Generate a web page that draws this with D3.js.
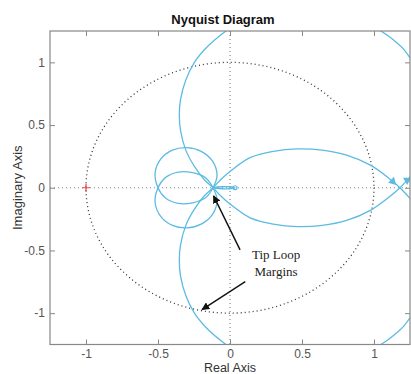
<!DOCTYPE html>
<html lang="en">
<head>
<meta charset="UTF-8">
<title>Nyquist Diagram</title>
<style>
  body { margin: 0; padding: 0; background: #fff; }
  svg { display: block; font-family: "Liberation Sans", Arial, sans-serif; }
  .tick text { fill: #555; font-size: 12px; }
  .tick line { stroke: #888; }
</style>
</head>
<body>
<svg id="chart" width="411" height="374"></svg>
<script src="https://d3js.org/d3.v7.min.js"></script>
<script>
// tick values
var xTicks = [-1, -0.5, 0, 0.5, 1];
var yTicks = [-1, -0.5, 0, 0.5, 1];

// big arc (upper half) running through the junction into the lower side of the right lobe
var branchA = [[-0.005, 1.27], [-0.105, 1.18], [-0.178, 1.10], [-0.247, 1.0], [-0.307, 0.86],
  [-0.344, 0.70], [-0.352, 0.58], [-0.344, 0.46], [-0.307, 0.30], [-0.247, 0.17],
  [-0.178, 0.064], [-0.118, 0], [-0.06, -0.07], [0.0, -0.13], [0.14, -0.24], [0.30, -0.29],
  [0.47, -0.31], [0.64, -0.30], [0.81, -0.26], [0.975, -0.18], [1.11, -0.07], [1.18, 0],
  [1.27, 0.11]];
// mirror branch (lower big arc into the upper side of the right lobe)
var branchB = [[-0.005, -1.27], [-0.105, -1.18], [-0.178, -1.10], [-0.247, -1.0], [-0.307, -0.86],
  [-0.344, -0.70], [-0.352, -0.58], [-0.344, -0.46], [-0.307, -0.30], [-0.247, -0.17],
  [-0.178, -0.064], [-0.118, 0], [-0.06, 0.07], [0.0, 0.13], [0.14, 0.24], [0.30, 0.29],
  [0.47, 0.31], [0.64, 0.30], [0.81, 0.26], [0.975, 0.18], [1.11, 0.07], [1.18, 0],
  [1.27, -0.11]];

// the two small loops left of the origin
var loopUpper = [[-0.30, 0.32], [-0.40, 0.30], [-0.48, 0.23], [-0.52, 0.12], [-0.50, 0.0],
  [-0.45, -0.08], [-0.36, -0.125], [-0.26, -0.12], [-0.17, -0.08], [-0.118, 0.0],
  [-0.09, 0.10], [-0.12, 0.21], [-0.20, 0.29]];
var loopLower = [[-0.30, -0.32], [-0.40, -0.30], [-0.48, -0.23], [-0.52, -0.12], [-0.50, 0.0],
  [-0.45, 0.08], [-0.36, 0.125], [-0.26, 0.12], [-0.17, 0.08], [-0.118, 0.0],
  [-0.09, -0.10], [-0.12, -0.21], [-0.20, -0.29]];

// tiny tip loop lying on the real axis
var tipLoop = [[-0.12, 0], [-0.06, 0.008], [0.0, 0.008], [0.035, 0], [0.0, -0.008], [-0.06, -0.008]];

// far branches in the right corners
var cornerTop = [[1.02, 1.27], [1.10, 1.21], [1.16, 1.155], [1.21, 1.10], [1.27, 1.0]];
var cornerBottom = [[1.02, -1.27], [1.10, -1.21], [1.16, -1.155], [1.21, -1.10], [1.27, -1.0]];

// arrow heads near the right crossing: [re, im, rotation deg]
var flowArrows = [[1.13, 0.05, 135], [1.23, 0.06, 300]];

// critical point
var critical = [[-1, 0]];

// annotation arrows: [from re, from im, to re, to im]
var noteArrows = [[0.07, -0.495, -0.114, -0.065], [0.106, -0.748, -0.194, -0.972]];
var noteLines = [["Tip Loop", 0.32, -0.567], ["Margins", 0.32, -0.70]];

var svg = d3.select("#chart");
var pLeft = 50, pRight = 410, pTop = 31, pBottom = 344.5;

var x = d3.scaleLinear().domain([-1.25, 1.25]).range([pLeft, pRight]);
var y = d3.scaleLinear().domain([-1.25, 1.25]).range([pBottom, pTop]);
var fmt = d => String(d);

var defs = svg.append("defs");
defs.append("clipPath").attr("id", "clip")
  .append("rect").attr("x", pLeft).attr("y", pTop)
  .attr("width", pRight - pLeft).attr("height", pBottom - pTop);

defs.append("marker")
  .attr("id", "head").attr("viewBox", "0 0 10 10")
  .attr("refX", 9).attr("refY", 5)
  .attr("markerWidth", 8).attr("markerHeight", 8)
  .attr("markerUnits", "userSpaceOnUse")
  .attr("orient", "auto")
  .append("path").attr("d", "M0,0L10,5L0,10z").attr("fill", "#111");

// axes with inward ticks
svg.append("g").attr("transform", "translate(0," + pBottom + ")")
  .call(d3.axisBottom(x).tickValues(xTicks).tickSize(-5).tickPadding(4.5).tickFormat(fmt))
  .call(g => g.select(".domain").remove());
svg.append("g").attr("transform", "translate(0," + pTop + ")")
  .call(d3.axisTop(x).tickValues(xTicks).tickSize(-5).tickFormat(""))
  .call(g => g.select(".domain").remove());
svg.append("g").attr("transform", "translate(" + pLeft + ",0)")
  .call(d3.axisLeft(y).tickValues(yTicks).tickSize(-5).tickPadding(5).tickFormat(fmt))
  .call(g => g.select(".domain").remove());
svg.append("g").attr("transform", "translate(" + pRight + ",0)")
  .call(d3.axisRight(y).tickValues(yTicks).tickSize(-5).tickFormat(""))
  .call(g => g.select(".domain").remove());

svg.selectAll(".tick text").style("font-family", "'Liberation Sans', Arial, sans-serif");

var plot = svg.append("g").attr("clip-path", "url(#clip)");

// zero lines
plot.append("line").attr("x1", x(0)).attr("x2", x(0)).attr("y1", pTop).attr("y2", pBottom)
  .attr("stroke", "#888").attr("stroke-width", 1.2).attr("stroke-dasharray", "1,3");
plot.append("line").attr("x1", pLeft).attr("x2", pRight).attr("y1", y(0)).attr("y2", y(0))
  .attr("stroke", "#888").attr("stroke-width", 1.2).attr("stroke-dasharray", "1,3");

// unit circle
plot.append("ellipse")
  .attr("cx", x(0)).attr("cy", y(0))
  .attr("rx", x(1) - x(0)).attr("ry", y(0) - y(1))
  .attr("fill", "none").attr("stroke", "#333").attr("stroke-width", 1.3)
  .attr("stroke-dasharray", "1,3");

var blue = "#5cbbe2";
var openLine = d3.line().x(d => x(d[0])).y(d => y(d[1])).curve(d3.curveCatmullRom);
var loopLine = d3.line().x(d => x(d[0])).y(d => y(d[1])).curve(d3.curveCatmullRomClosed);

[branchA, branchB, cornerTop, cornerBottom].forEach(function (pts) {
  plot.append("path").attr("d", openLine(pts))
    .attr("fill", "none").attr("stroke", blue).attr("stroke-width", 1.3);
});
[loopUpper, loopLower, tipLoop].forEach(function (pts) {
  plot.append("path").attr("d", loopLine(pts))
    .attr("fill", "none").attr("stroke", blue).attr("stroke-width", 1.3);
});
plot.append("circle").attr("cx", x(0.035)).attr("cy", y(0)).attr("r", 2)
  .attr("fill", "none").attr("stroke", blue).attr("stroke-width", 1.2);

plot.selectAll(".flow").data(flowArrows).enter().append("path")
  .attr("d", d3.symbol().type(d3.symbolTriangle).size(30))
  .attr("transform", d => "translate(" + x(d[0]) + "," + y(d[1]) + ") rotate(" + d[2] + ")")
  .attr("fill", blue);

// critical point marker
plot.selectAll(".crit").data(critical).enter().append("path")
  .attr("d", "M-4,0H4M0,-4V4")
  .attr("transform", d => "translate(" + x(d[0]) + "," + y(d[1]) + ")")
  .attr("stroke", "#e8474a").attr("stroke-width", 1.2).attr("fill", "none");

// box
svg.append("rect").attr("x", pLeft).attr("y", pTop)
  .attr("width", pRight - pLeft).attr("height", pBottom - pTop)
  .attr("fill", "none").attr("stroke", "#888").attr("stroke-width", 1.2);

// annotation
svg.selectAll(".note-arrow").data(noteArrows).enter().append("line")
  .attr("x1", d => x(d[0])).attr("y1", d => y(d[1]))
  .attr("x2", d => x(d[2])).attr("y2", d => y(d[3]))
  .attr("stroke", "#111").attr("stroke-width", 1.4)
  .attr("marker-end", "url(#head)");

svg.selectAll(".note-text").data(noteLines).enter().append("text")
  .attr("x", d => x(d[1])).attr("y", d => y(d[2]))
  .attr("text-anchor", "middle")
  .style("font-family", "'Liberation Serif', 'Times New Roman', serif")
  .style("font-size", "13px").attr("fill", "#222")
  .text(d => d[0]);

// titles
svg.append("text").attr("x", 223).attr("y", 24).attr("text-anchor", "middle")
  .style("font-size", "13px").style("font-weight", "bold").attr("fill", "#111")
  .text("Nyquist Diagram");
svg.append("text").attr("x", x(0)).attr("y", 371.5).attr("text-anchor", "middle")
  .style("font-size", "12.5px").attr("fill", "#333")
  .text("Real Axis");
svg.append("text").attr("transform", "translate(22," + y(0) + ") rotate(-90)")
  .attr("text-anchor", "middle")
  .style("font-size", "13px").attr("fill", "#333")
  .text("Imaginary Axis");
</script>
</body>
</html>
